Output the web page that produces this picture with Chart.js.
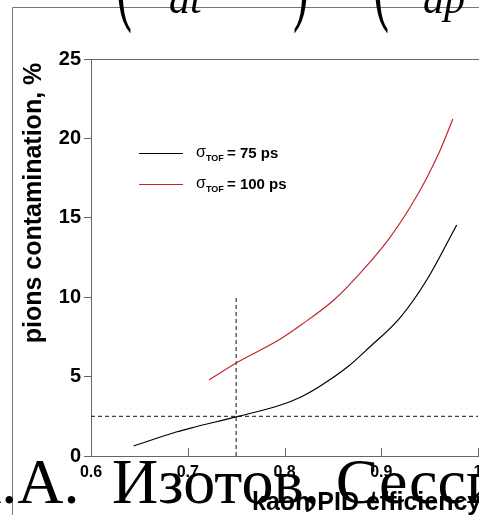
<!DOCTYPE html>
<html>
<head>
<meta charset="utf-8">
<script src="https://cdn.jsdelivr.net/npm/chart.js@4/dist/chart.umd.min.js"></script>
<style>
  html, body { margin: 0; padding: 0; background: #fff; }
  #wrap { width: 479px; height: 515px; }
</style>
</head>
<body>
<div id="wrap"><canvas id="contaminationChart" width="479" height="515"></canvas></div>
<script>
// kaon PID efficiency vs pion contamination for two TOF resolutions
const effTof75 = [0.644, 0.688, 0.703, 0.750, 0.796, 0.817, 0.837, 0.865, 0.887, 0.920, 0.947, 0.978];
const contTof75 = [0.63, 1.51, 1.76, 2.46, 3.21, 3.72, 4.41, 5.60, 6.80, 8.75, 11.08, 14.55];

const effTof100 = [0.722, 0.750, 0.794, 0.817, 0.851, 0.881, 0.907, 0.930, 0.947, 0.961, 0.974];
const contTof100 = [4.79, 5.86, 7.30, 8.25, 9.82, 11.71, 13.60, 15.68, 17.51, 19.27, 21.22];

// working point guides
const guideX = [0.6, 1.0];
const guideY = [2.5, 2.5];
const markX = [0.75, 0.75];
const markY = [0, 10];

const xTickValues = [0.6, 0.7, 0.8, 0.9, 1.0];
const xTickLabels = ['0.6', '0.7', '0.8', '0.9', '1'];
const yTickValues = [0, 5, 10, 15, 20, 25];

const seriesNames = ['75 ps', '100 ps'];
const seriesColors = ['#000000', '#c0272d'];

const pairs = (xs, ys) => xs.map((x, i) => ({ x: x, y: ys[i] }));

const SANS = '"Liberation Sans", Arial, sans-serif';
const SERIF = '"Liberation Serif", "Times New Roman", serif';

// tall thin bracket: small glyph stretched vertically
function bracket(c, ch, x, y) {
  c.save();
  c.translate(x, y);
  c.scale(1, 2.3);
  c.font = '48px ' + SERIF;
  c.fillText(ch, 0, 0);
  c.restore();
}

const decor = {
  id: 'decor',
  beforeDraw(chart) {
    const c = chart.ctx;
    c.save();
    c.fillStyle = '#fff';
    c.fillRect(0, 0, chart.width, chart.height);
    c.restore();
  },
  afterDraw(chart) {
    const c = chart.ctx;
    const a = chart.chartArea;
    const xs = chart.scales.x;
    c.save();

    // slide frame
    c.strokeStyle = '#777';
    c.lineWidth = 1;
    c.beginPath();
    c.moveTo(12.5, 515);
    c.lineTo(12.5, 7.5);
    c.lineTo(479, 7.5);
    c.stroke();

    // plot box top
    c.strokeStyle = '#666';
    c.beginPath();
    c.moveTo(a.left, a.top + 0.5);
    c.lineTo(a.right + 2, a.top + 0.5);
    c.stroke();

    // x ticks point into the plot
    c.beginPath();
    xTickValues.forEach(v => {
      const px = Math.round(xs.getPixelForValue(v)) + 0.5;
      c.moveTo(px, a.bottom);
      c.lineTo(px, a.bottom - 8);
    });
    c.stroke();

    // legend
    const rows = [153, 184];
    seriesNames.forEach((name, i) => {
      const y = rows[i];
      c.strokeStyle = seriesColors[i];
      c.lineWidth = 1.2;
      c.beginPath();
      c.moveTo(139, y + 0.5);
      c.lineTo(183, y + 0.5);
      c.stroke();
      c.fillStyle = '#000';
      c.textBaseline = 'alphabetic';
      c.font = '16px ' + SANS;
      c.fillText('σ', 196, y + 4);
      c.font = 'bold 9px ' + SANS;
      c.fillText('TOF', 206, y + 8);
      c.font = 'bold 15px ' + SANS;
      c.fillText('= ' + name, 227, y + 5);
    });

    // axis titles
    c.fillStyle = '#000';
    c.font = 'bold 25px ' + SANS;
    c.textAlign = 'left';
    c.fillText('kaon PID efficiency', 252, 510);
    c.save();
    c.translate(41, 203);
    c.rotate(-Math.PI / 2);
    c.textAlign = 'center';
    c.fillText('pions contamination, %', 0, 0);
    c.restore();

    // slide text around the plot
    c.textAlign = 'left';
    c.font = '64px ' + SERIF;
    c.fillText('А.А.', -45, 503);
    c.fillText('Изотов, Сессия', 112, 503);

    bracket(c, '(', 116, 10);
    bracket(c, ')', 293, 10);
    bracket(c, '(', 373, 10);
    c.font = 'italic 42px ' + SERIF;
    c.fillText('at', 169, 13);
    c.fillText('ap', 423, 13);

    c.restore();
  }
};

new Chart(document.getElementById('contaminationChart').getContext('2d'), {
  type: 'scatter',
  data: {
    datasets: [
      {
        label: seriesNames[0],
        data: pairs(effTof75, contTof75),
        showLine: true,
        borderColor: seriesColors[0],
        borderWidth: 1.2,
        pointRadius: 0,
        cubicInterpolationMode: 'monotone'
      },
      {
        label: seriesNames[1],
        data: pairs(effTof100, contTof100),
        showLine: true,
        borderColor: seriesColors[1],
        borderWidth: 1.2,
        pointRadius: 0,
        cubicInterpolationMode: 'monotone'
      },
      {
        label: 'cut',
        data: pairs(guideX, guideY),
        showLine: true,
        borderColor: '#111',
        borderWidth: 1,
        borderDash: [4, 3],
        pointRadius: 0
      },
      {
        label: 'eff',
        data: pairs(markX, markY),
        showLine: true,
        borderColor: '#111',
        borderWidth: 1,
        borderDash: [4, 3],
        pointRadius: 0
      }
    ]
  },
  options: {
    responsive: false,
    devicePixelRatio: 1,
    animation: false,
    layout: { padding: { top: 59, right: 1, left: 0, bottom: 0 } },
    plugins: {
      legend: { display: false },
      tooltip: { enabled: false }
    },
    scales: {
      x: {
        type: 'linear',
        min: 0.6,
        max: 1.0,
        afterBuildTicks(scale) {
          scale.ticks = xTickValues.map(v => ({ value: v }));
        },
        afterFit(scale) {
          scale.height = 59;
          scale.paddingLeft = 0;
          scale.paddingRight = 0;
        },
        border: { display: true, color: '#666', width: 1 },
        grid: { drawOnChartArea: false, drawTicks: false },
        ticks: {
          padding: 7,
          color: '#000',
          maxRotation: 0,
          autoSkip: false,
          font: { family: SANS, size: 16, weight: 'bold' },
          callback: (v, i) => xTickLabels[i]
        }
      },
      y: {
        type: 'linear',
        min: 0,
        max: 25,
        afterBuildTicks(scale) {
          scale.ticks = yTickValues.map(v => ({ value: v }));
        },
        afterFit(scale) {
          scale.width = 91;
          scale.paddingTop = 0;
          scale.paddingBottom = 0;
        },
        border: { display: true, color: '#666', width: 1 },
        grid: { drawOnChartArea: false, drawTicks: true, tickLength: 7, color: '#666' },
        ticks: {
          padding: 3,
          color: '#000',
          font: { family: SANS, size: 20, weight: 'bold' }
        }
      }
    }
  },
  plugins: [decor]
});
</script>
</body>
</html>
